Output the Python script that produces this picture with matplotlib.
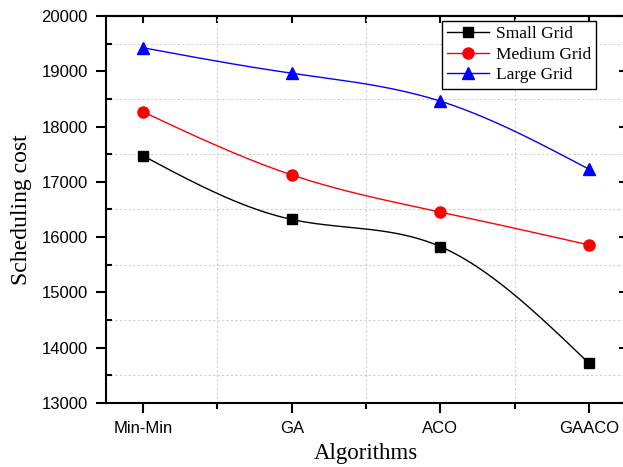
import numpy as np
import matplotlib
matplotlib.use("Agg")
import matplotlib.pyplot as plt
from matplotlib.ticker import MultipleLocator

algorithms = ["Min-Min", "GA", "ACO", "GAACO"]
small_grid = [17470, 16320, 15830, 13720]
medium_grid = [18265, 17125, 16455, 15860]
large_grid = [19425, 18965, 18460, 17230]


def natural_spline(x, y, n=200):
    # natural cubic spline through the points, only used to draw the smooth line
    x = np.asarray(x, float)
    y = np.asarray(y, float)
    k = len(x)
    h = np.diff(x)
    A = np.zeros((k, k))
    b = np.zeros(k)
    A[0, 0] = 1
    A[-1, -1] = 1
    for i in range(1, k - 1):
        A[i, i - 1] = h[i - 1]
        A[i, i] = 2 * (h[i - 1] + h[i])
        A[i, i + 1] = h[i]
        b[i] = 6 * ((y[i + 1] - y[i]) / h[i] - (y[i] - y[i - 1]) / h[i - 1])
    M = np.linalg.solve(A, b)
    xs = np.linspace(x[0], x[-1], n)
    idx = np.clip(np.searchsorted(x, xs) - 1, 0, k - 2)
    x0, x1 = x[idx], x[idx + 1]
    hh = x1 - x0
    t0 = x1 - xs
    t1 = xs - x0
    ys = (M[idx] * t0 ** 3 + M[idx + 1] * t1 ** 3) / (6 * hh) \
        + (y[idx] / hh - M[idx] * hh / 6) * t0 \
        + (y[idx + 1] / hh - M[idx + 1] * hh / 6) * t1
    return xs, ys


fig = plt.figure(figsize=(6.23, 4.67), dpi=100)
ax = fig.add_axes([106 / 623, 64 / 467, 520 / 623, 387 / 467])

xpos = np.arange(len(algorithms))
series = [
    (small_grid, "black", "s", "Small Grid", 7),
    (medium_grid, "red", "o", "Medium Grid", 8),
    (large_grid, "blue", "^", "Large Grid", 9),
]
for vals, color, marker, label, ms in series:
    xs, ys = natural_spline(xpos, vals)
    ax.plot(xs, ys, color=color, lw=1.0)
    ax.plot(xpos, vals, linestyle="none", marker=marker, color=color, ms=ms)
    ax.plot([], [], color=color, lw=1.0, marker=marker, ms=ms, label=label)

ax.set_xlim(-0.25, 3.25)
ax.set_ylim(13000, 20000)
ax.set_xticks(xpos)
ax.set_xticklabels(algorithms, fontfamily="Liberation Sans", fontsize=12)
ax.xaxis.set_minor_locator(MultipleLocator(0.5))
ax.yaxis.set_major_locator(MultipleLocator(1000))
ax.yaxis.set_minor_locator(MultipleLocator(500))
for lab in ax.get_yticklabels():
    lab.set_fontfamily("Liberation Sans")
    lab.set_fontsize(12)

# grid at the minor positions, like the original
ax.grid(which="minor", color="#cfcfcf", linestyle=(0, (2, 2)), lw=0.8)
ax.grid(which="major", visible=False)

for s in ax.spines.values():
    s.set_linewidth(1.5)
ax.tick_params(which="major", direction="out", length=7, width=1.5, pad=6)
ax.tick_params(axis="x", which="minor", direction="out", length=4, width=1.5)
ax.tick_params(axis="y", which="minor", direction="in", length=4, width=1.5)

# mirror ticks on top and right, pointing inward
top = ax.secondary_xaxis("top")
top.set_xticks(xpos)
top.xaxis.set_minor_locator(MultipleLocator(0.5))
top.tick_params(which="both", direction="in", length=5, width=1.5, labeltop=False)
right = ax.secondary_yaxis("right")
right.yaxis.set_major_locator(MultipleLocator(1000))
right.tick_params(which="major", direction="in", length=5, width=1.5, labelright=False)
right.tick_params(which="minor", length=0)
for sec in (top, right):
    for s in sec.spines.values():
        s.set_linewidth(1.5)

ax.set_xlabel("Algorithms", fontfamily="Liberation Serif", fontsize=16.5, labelpad=5)
ax.set_ylabel("Scheduling cost", fontfamily="Liberation Serif", fontsize=17, labelpad=7)

leg = ax.legend(loc="upper right", bbox_to_anchor=(0.943, 0.987),
                prop={"family": "Liberation Serif", "size": 12.5},
                fancybox=False, edgecolor="black", framealpha=1,
                handlelength=2.4, borderpad=0.3, labelspacing=0.25,
                handletextpad=0.4, borderaxespad=0)
leg.get_frame().set_linewidth(1.0)

fig.savefig("out.png", dpi=100)
